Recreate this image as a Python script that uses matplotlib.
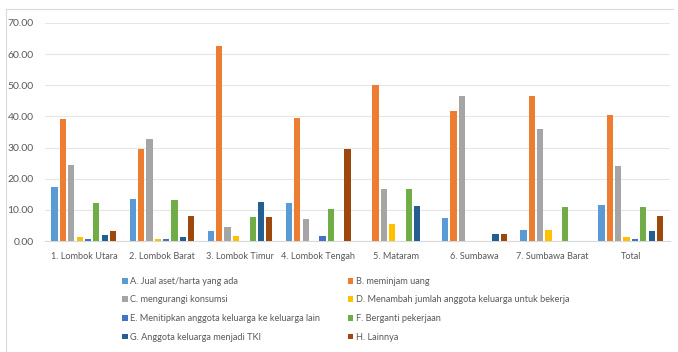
import numpy as np
import matplotlib.pyplot as plt
from matplotlib.patches import Patch
from matplotlib.lines import Line2D

plt.rcParams['font.family'] = ['Lato', 'DejaVu Sans']

categories = ['1. Lombok Utara', '2. Lombok Barat', '3. Lombok Timur', '4. Lombok Tengah',
              '5. Mataram', '6. Sumbawa', '7. Sumbawa Barat', 'Total']

series_labels = ['A. Jual aset/harta yang ada',
                 'B. meminjam uang',
                 'C. mengurangi konsumsi',
                 'D. Menambah jumlah anggota keluarga untuk bekerja',
                 'E. Menitipkan anggota keluarga ke keluarga lain',
                 'F. Berganti pekerjaan',
                 'G. Anggota keluarga menjadi TKI',
                 'H. Lainnya']

a_jual = [17.5, 13.4, 3.2, 12.2, 0.0, 7.4, 3.5, 11.6]
b_pinjam = [39.1, 29.7, 62.6, 39.6, 50.1, 41.6, 46.7, 40.6]
c_kurangi = [24.3, 32.7, 4.6, 7.0, 16.8, 46.4, 35.9, 24.2]
d_tambah = [1.3, 0.8, 1.6, 0.0, 5.6, 0.0, 3.5, 1.2]
e_titip = [0.7, 0.8, 0.0, 1.8, 0.0, 0.0, 0.0, 0.6]
f_ganti = [12.2, 13.3, 7.6, 10.4, 16.8, 0.0, 10.9, 10.9]
g_tki = [2.0, 1.4, 12.5, 0.0, 11.2, 2.4, 0.0, 3.3]
h_lain = [3.3, 8.1, 7.6, 29.4, 0.0, 2.4, 0.0, 8.0]

values = [a_jual, b_pinjam, c_kurangi, d_tambah, e_titip, f_ganti, g_tki, h_lain]
colors = ['#5B9BD5', '#ED7D31', '#A5A5A5', '#FFC000',
          '#4472C4', '#70AD47', '#255E91', '#9E480E']

fig = plt.figure(figsize=(6.78, 3.52), dpi=100)
ax = fig.add_axes([0.066, 0.315, 0.922, 0.62])

x = np.arange(len(categories))
slot = 0.107
width = 0.08
for i, (vals, col) in enumerate(zip(values, colors)):
    ax.bar(x + (i - 3.5) * slot, vals, width=width, color=col, zorder=3)

ax.set_xlim(-0.5, len(categories) - 0.5)
ax.set_ylim(0, 70)
ax.set_yticks(np.arange(0, 71, 10))
ax.set_yticklabels([f'{v:.2f}' for v in np.arange(0, 71, 10)])
ax.set_xticks(x)
ax.set_xticklabels(categories)
ax.grid(axis='y', color='#E6E6E6', linewidth=0.8, zorder=0)
for s in ['top', 'right', 'left']:
    ax.spines[s].set_visible(False)
ax.spines['bottom'].set_color('#D9D9D9')
ax.tick_params(axis='both', length=0, labelcolor='#595959')
ax.tick_params(axis='x', pad=8, labelsize=6.6)
ax.tick_params(axis='y', pad=8, labelsize=7.5)

# legend: row-wise order A B / C D / E F / G H
order = [0, 2, 4, 6, 1, 3, 5, 7]
handles = [Patch(facecolor=colors[i], edgecolor='none') for i in order]
labels = [series_labels[i] for i in order]
fig.legend(handles, labels, ncol=2, loc='upper left', bbox_to_anchor=(0.168, 0.237),
           frameon=False, fontsize=6.6, labelcolor='#595959',
           handlelength=0.6, handleheight=0.6, handletextpad=0.3,
           columnspacing=3.0, labelspacing=1.05)

# light outer frame (top and left edges)
fig.add_artist(Line2D([6 / 678, 673 / 678], [1 - 9 / 352] * 2, color='#D9D9D9', lw=0.8))
fig.add_artist(Line2D([6 / 678] * 2, [0, 1 - 9 / 352], color='#D9D9D9', lw=0.8))

fig.savefig('out.png', dpi=100, facecolor='white')
